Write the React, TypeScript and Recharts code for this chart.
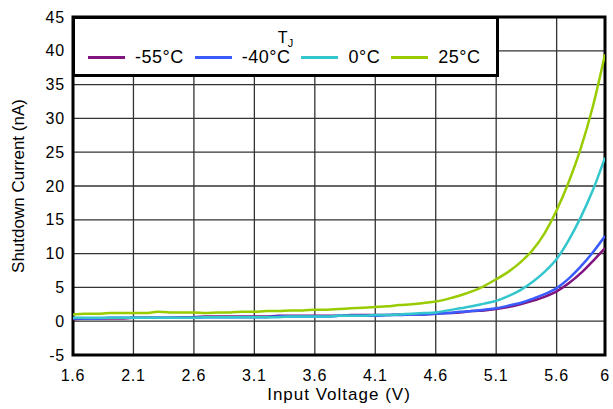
import React from "react";
import {
  LineChart,
  Line,
  XAxis,
  YAxis,
  CartesianGrid,
  ReferenceArea,
} from "recharts";

const volts = [
  1.6, 1.7, 1.8, 1.9, 2.0, 2.1, 2.2, 2.3, 2.4, 2.5, 2.6, 2.7, 2.8, 2.9, 3.0,
  3.1, 3.2, 3.3, 3.4, 3.5, 3.6, 3.7, 3.8, 3.9, 4.0, 4.1, 4.2, 4.3, 4.4, 4.5,
  4.6, 4.7, 4.8, 4.9, 5.0, 5.1, 5.2, 5.3, 5.4, 5.5, 5.6, 5.7, 5.8, 5.9, 6.0,
];

const tMinus55 = [
  0.3, 0.4, 0.4, 0.4, 0.4, 0.5, 0.5, 0.5, 0.5, 0.6, 0.6, 0.7, 0.7, 0.7, 0.7,
  0.7, 0.7, 0.8, 0.8, 0.8, 0.8, 0.8, 0.8, 0.9, 0.9, 0.9, 0.9, 1.0, 1.0, 1.0,
  1.1, 1.2, 1.3, 1.5, 1.6, 1.8, 2.1, 2.5, 3.0, 3.6, 4.4, 5.6, 7.1, 8.9, 10.8,
];

const tMinus40 = [
  0.4, 0.4, 0.4, 0.5, 0.5, 0.5, 0.5, 0.5, 0.5, 0.5, 0.5, 0.6, 0.6, 0.6, 0.6,
  0.6, 0.6, 0.7, 0.7, 0.7, 0.7, 0.7, 0.8, 0.8, 0.8, 0.8, 0.9, 0.9, 1.0, 1.0,
  1.1, 1.2, 1.4, 1.5, 1.7, 1.9, 2.3, 2.7, 3.3, 4.0, 4.9, 6.3, 8.1, 10.2, 12.6,
];

const t0 = [
  0.5, 0.5, 0.5, 0.5, 0.5, 0.5, 0.5, 0.5, 0.5, 0.5, 0.5, 0.6, 0.6, 0.6, 0.6,
  0.6, 0.6, 0.6, 0.7, 0.7, 0.7, 0.7, 0.8, 0.8, 0.8, 0.9, 0.9, 1.0, 1.1, 1.2,
  1.3, 1.6, 1.9, 2.2, 2.6, 3.0, 3.7, 4.6, 5.8, 7.3, 9.2, 12.0, 15.4, 19.4, 24.2,
];

const t25 = [
  1.0, 1.1, 1.1, 1.2, 1.2, 1.2, 1.2, 1.4, 1.3, 1.3, 1.3, 1.2, 1.3, 1.3, 1.4,
  1.4, 1.5, 1.5, 1.6, 1.6, 1.7, 1.7, 1.8, 1.9, 2.0, 2.1, 2.2, 2.4, 2.5, 2.7,
  2.9, 3.3, 3.8, 4.4, 5.2, 6.2, 7.3, 8.7, 10.5, 13.0, 16.4, 20.6, 25.6, 31.8, 39.5,
];

const xTicks = [1.6, 2.1, 2.6, 3.1, 3.6, 4.1, 4.6, 5.1, 5.6, 6];
const yTicks = [-5, 0, 5, 10, 15, 20, 25, 30, 35, 40, 45];

const series = [
  { key: "m55", name: "-55°C", color: "#80157f", values: tMinus55 },
  { key: "m40", name: "-40°C", color: "#3a5cff", values: tMinus40 },
  { key: "p0", name: "0°C", color: "#33c6cc", values: t0 },
  { key: "p25", name: "25°C", color: "#99cc00", values: t25 },
];

const data = volts.map((v, i) => {
  const row: Record<string, number> = { v };
  series.forEach((s) => {
    row[s.key] = s.values[i];
  });
  return row;
});

const FONT = '"Liberation Sans", Arial, Helvetica, sans-serif';

function LegendBox() {
  return (
    <div
      style={{
        position: "absolute",
        left: 72,
        top: 16,
        width: 427,
        height: 61,
        boxSizing: "border-box",
        border: "3px solid #000",
        background: "#fff",
        fontFamily: FONT,
        color: "#000",
      }}
    >
      <div
        style={{
          position: "absolute",
          left: 0,
          right: 0,
          top: 11,
          textAlign: "center",
          fontSize: 16,
          lineHeight: "16px",
        }}
      >
        T<sub style={{ fontSize: 11, verticalAlign: "-4px" }}>J</sub>
      </div>
      <div
        style={{
          position: "absolute",
          left: 13,
          top: 27,
          display: "flex",
          alignItems: "center",
          fontSize: 18,
          lineHeight: "22px",
          letterSpacing: 0.5,
          whiteSpace: "nowrap",
        }}
      >
        {series.map((s) => (
          <div
            key={s.key}
            style={{ display: "flex", alignItems: "center", marginRight: 11 }}
          >
            <div
              style={{
                width: 37,
                height: 3,
                background: s.color,
                marginRight: 10,
              }}
            />
            <span>{s.name}</span>
          </div>
        ))}
      </div>
    </div>
  );
}

export default function App() {
  return (
    <div
      style={{
        position: "absolute",
        left: 0,
        top: 0,
        width: 613,
        height: 409,
        background: "#fff",
        fontFamily: FONT,
      }}
    >
      <LineChart
        width={613}
        height={409}
        data={data}
        margin={{ top: 17, right: 8, left: 0, bottom: 24 }}
      >
        <CartesianGrid stroke="#333" strokeWidth={1.3} />
        <XAxis
          dataKey="v"
          type="number"
          domain={[1.6, 6]}
          ticks={xTicks}
          allowDataOverflow
          height={30}
          tickLine={false}
          axisLine={false}
          tickMargin={9}
          tick={{ fontSize: 16, fill: "#000", letterSpacing: 0.8 }}
          label={{
            value: "Input Voltage (V)",
            position: "bottom",
            offset: 3,
            style: { fontSize: 17, fill: "#000", letterSpacing: 1 },
          }}
        />
        <YAxis
          type="number"
          domain={[-5, 45]}
          ticks={yTicks}
          allowDataOverflow
          width={73}
          tickLine={false}
          axisLine={false}
          tick={{ fontSize: 16, fill: "#000", letterSpacing: 0.8 }}
          label={{
            value: "Shutdown Current (nA)",
            angle: -90,
            position: "insideLeft",
            offset: 18,
            style: { fontSize: 17, fill: "#000", textAnchor: "middle" },
          }}
        />
        <ReferenceArea
          x1={1.6}
          x2={6}
          y1={-5}
          y2={45}
          fill="none"
          fillOpacity={0}
          stroke="#000"
          strokeWidth={3}
        />
        {series.map((s) => (
          <Line
            key={s.key}
            type="monotone"
            dataKey={s.key}
            name={s.name}
            stroke={s.color}
            strokeWidth={2.5}
            dot={false}
            isAnimationActive={false}
          />
        ))}
      </LineChart>
      <LegendBox />
    </div>
  );
}
